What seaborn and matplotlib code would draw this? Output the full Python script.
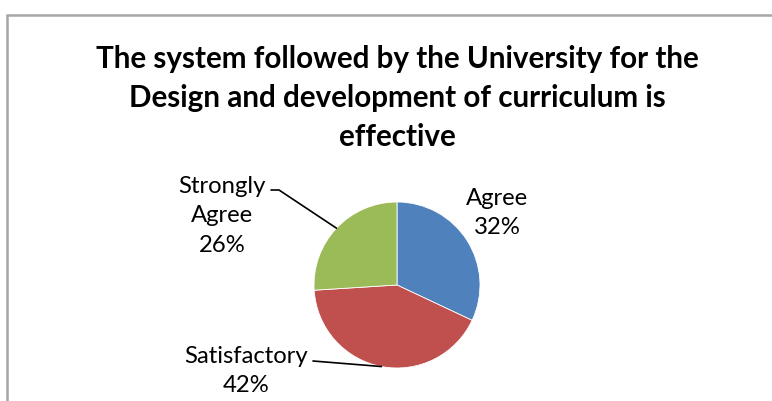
import matplotlib
matplotlib.use("Agg")
import matplotlib.pyplot as plt
import seaborn as sns
import numpy as np

title = "The system followed by the University for the\nDesign and development of curriculum is\neffective"
categories = ["Agree", "Satisfactory", "Strongly\nAgree"]
values = [32, 42, 26]
colors = ["#4F81BD", "#C0504D", "#9BBB59"]

sns.set_theme(style="white")
plt.rcParams['font.family'] = ['Lato', 'DejaVu Sans']

W, H = 772, 401
fig = plt.figure(figsize=(W / 100, H / 100), dpi=100)
ax = fig.add_axes([0, 0, 1, 1])

cx, cy, r = 397, H - 285, 83
wedges, _ = ax.pie(values, colors=colors, startangle=90, counterclock=False,
                   center=(cx, cy), radius=r, frame=True,
                   wedgeprops=dict(edgecolor="white", linewidth=0.6))
ax.set_xlim(0, W)
ax.set_ylim(0, H)
ax.set_aspect('auto')
ax.axis('off')

# chart border (extends past right and bottom edges)
ax.plot([7, 7, W + 5], [-5, H - 15, H - 15], color="#A6A6A6", lw=1.8, solid_joinstyle='miter')

ax.text(397, H - 98, title, ha='center', va='center', fontsize=21.3,
        fontweight='bold', linespacing=1.46, color='black')

lab_fs = 17.2
labels = [f"{c}\n{v}%" for c, v in zip(categories, values)]
lab_pos = [(497, H - 213), (246, H - 371), (222, H - 216)]
for lab, (lx, ly) in zip(labels, lab_pos):
    ax.text(lx, ly, lab, ha='center', va='center', fontsize=lab_fs,
            linespacing=1.48, color='#000000')

def edge_point(w, frac=0.5):
    ang = np.deg2rad(w.theta1 + (w.theta2 - w.theta1) * frac)
    return cx + r * np.cos(ang), cy + r * np.sin(ang)

# Strongly Agree leader
px, py = edge_point(wedges[2], 0.5)
ax.plot([271, 279, px], [H - 190, H - 190, py], color='black', lw=1.2)
# Satisfactory leader
px, py = edge_point(wedges[1], 0.5)
ax.plot([313, px], [H - 361, py], color='black', lw=1.2)

fig.savefig("out.png", dpi=100)
